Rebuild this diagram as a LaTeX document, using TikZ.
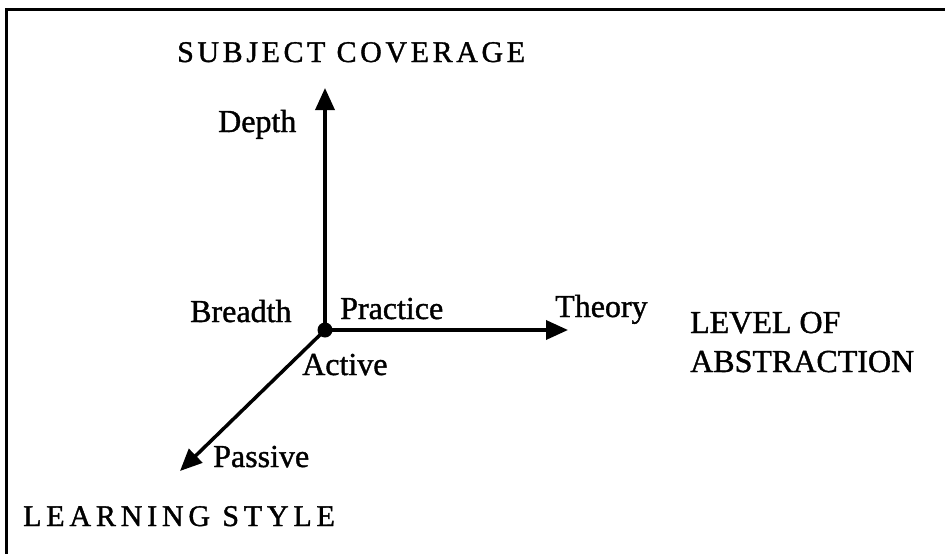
\documentclass[tikz,border=0pt]{standalone}
\usepackage{fontspec}
\setmainfont{Liberation Serif}
\newfontfamily\labelfont[FakeBold=1.2]{Liberation Serif}
\newfontfamily\spacedfont[LetterSpace=12,FakeBold=1.2]{Liberation Serif}
\newfontfamily\widerfont[LetterSpace=16,FakeBold=1.2]{Liberation Serif}
\usetikzlibrary{arrows.meta}
\begin{document}
\begin{tikzpicture}[x=1pt,y=-1pt,
  lbl/.style={anchor=base west,inner sep=0pt,font=\labelfont\fontsize{32}{38}\selectfont},
  title/.style={anchor=base west,inner sep=0pt,font=\spacedfont\fontsize{30}{36}\selectfont},
  title2/.style={anchor=base west,inner sep=0pt,font=\widerfont\fontsize{30}{36}\selectfont},
  axis/.style={line width=3.5pt,-{Triangle[length=22pt,width=19pt]}},
  frame/.style={line width=3pt}]
\useasboundingbox (0,0) rectangle (945,554);
% frame (top and left edges)
\coordinate (fl) at (6,554);
\coordinate (fc) at (6,9);
\coordinate (fr) at (945,9);
\draw[frame] (fl) -- (fc) -- (fr);
% axes
\coordinate (o) at (325,330);
\coordinate (tv) at (325,88);
\coordinate (th) at (568,330);
\coordinate (td) at (180,471);
\draw[axis] (o) -- (tv);
\draw[axis] (o) -- (th);
\draw[axis] (o) -- (td);
\fill (o) circle (7.5);
% labels
\node[title] (subj) at (177,62) {SUBJECT COVERAGE};
\node[lbl] (depth) at (218,132) {Depth};
\node[lbl] (breadth) at (190,322) {Breadth};
\node[lbl] (practice) at (340,319) {Practice};
\node[lbl] (theory) at (555,317) {Theory};
\node[lbl] (level) at (690,333) {LEVEL OF};
\node[lbl] (abstr) at (690,372) {ABSTRACTION};
\node[lbl] (active) at (302,375) {Active};
\node[lbl] (passive) at (213,467) {Passive};
\node[title2] (learn) at (23,526) {LEARNING STYLE};
\end{tikzpicture}
\end{document}
